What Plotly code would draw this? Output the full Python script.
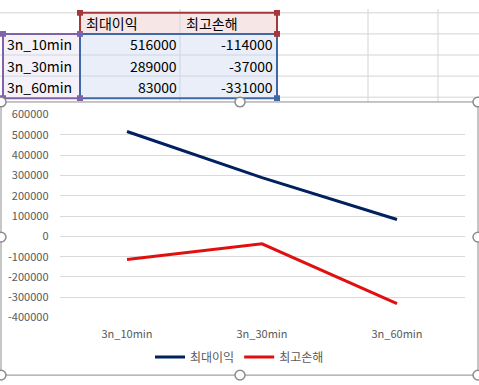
import plotly.graph_objects as go

categories = ["3n_10min", "3n_30min", "3n_60min"]
series_names = ["최대이익", "최고손해"]
max_profit = [516000, 289000, 83000]
max_loss = [-114000, -37000, -331000]
y_ticks = [600000, 500000, 400000, 300000, 200000, 100000, 0,
           -100000, -200000, -300000, -400000]

W, H = 479, 385
FONT = "Noto Sans CJK KR, Malgun Gothic, sans-serif"

def px(x):
    return x / W

def py(y):
    return 1 - y / H

fig = go.Figure()
fig.add_trace(go.Scatter(x=categories, y=max_profit, name=series_names[0],
                         mode="lines", line=dict(color="#002060", width=3)))
fig.add_trace(go.Scatter(x=categories, y=max_loss, name=series_names[1],
                         mode="lines", line=dict(color="#E01010", width=3)))

shapes = []
annotations = []

def rect(x0, y0, x1, y1, fill=None, line=None, lw=1, layer="below"):
    shapes.append(dict(type="rect", xref="paper", yref="paper",
                       x0=px(x0), x1=px(x1), y0=py(y1), y1=py(y0),
                       fillcolor=fill or "rgba(0,0,0,0)",
                       line=dict(color=line or "rgba(0,0,0,0)", width=lw if line else 0),
                       layer=layer))

def hline(x0, x1, y, color="#d4d4d4", w=1, layer="below"):
    shapes.append(dict(type="line", xref="paper", yref="paper",
                       x0=px(x0), x1=px(x1), y0=py(y), y1=py(y),
                       line=dict(color=color, width=w), layer=layer))

def vline(x, y0, y1, color="#d4d4d4", w=1, layer="below"):
    shapes.append(dict(type="line", xref="paper", yref="paper",
                       x0=px(x), x1=px(x), y0=py(y0), y1=py(y1),
                       line=dict(color=color, width=w), layer=layer))

# spreadsheet gridlines
for yy in [4, 26, 48, 70, 92]:
    hline(0, W, yy)
for xx in [180, 368, 438]:
    vline(xx, 0, 97)

# selection fills
rect(80, 4, 277, 26, fill="#f7e6e6")
rect(3, 26, 80, 93, fill="#f4f1f8")
rect(80, 26, 277, 93, fill="#e9eef8")
for yy in [48, 70]:
    hline(3, 277, yy, color="#cfd6e2")
vline(180, 4, 93, color="#cfd6e2")

# selection borders
rect(80, 4, 277, 26, line="#a4373a", lw=2)
rect(3, 26, 80, 93, line="#7f62a8", lw=2)
rect(80, 26, 277, 93, line="#3e68a8", lw=2)

def handle(x, y, color):
    rect(x - 3, y - 3, x + 3, y + 3, fill=color, layer="above")

for (x, y) in [(80, 4), (277, 4), (277, 26)]:
    handle(x, y, "#a4373a")
for (x, y) in [(3, 26), (80, 26), (3, 93), (80, 93)]:
    handle(x, y, "#7f62a8")
handle(277, 93, "#3e68a8")

# table text
def text(x, y, s, anchor):
    annotations.append(dict(xref="paper", yref="paper", x=px(x), y=py(y), text=s,
                            showarrow=False, xanchor=anchor, yanchor="middle",
                            font=dict(family=FONT, size=14, color="#000000")))

text(84, 15, series_names[0], "left")
text(184, 15, series_names[1], "left")
row_y = [37, 59, 81]
for i, c in enumerate(categories):
    text(5, row_y[i], c, "left")
    text(179, row_y[i], str(max_profit[i]), "right")
    text(275, row_y[i], str(max_loss[i]), "right")

# chart area
rect(1, 97, 478, 382, fill="#ffffff", line="#8c8c8c", lw=1)

def circle(x, y):
    shapes.append(dict(type="circle", xref="paper", yref="paper",
                       x0=px(x - 5), x1=px(x + 5), y0=py(y + 5), y1=py(y - 5),
                       fillcolor="#ffffff", line=dict(color="#8c8c8c", width=1.5),
                       layer="above"))

for (x, y) in [(1, 97), (240, 97), (478, 97), (1, 238), (478, 238),
               (1, 382), (240, 382), (478, 382)]:
    circle(x, y)

fig.update_layout(
    width=W, height=H,
    margin=dict(l=0, r=0, t=0, b=0),
    paper_bgcolor="#ffffff",
    plot_bgcolor="rgba(0,0,0,0)",
    font=dict(family=FONT, color="#595959"),
    shapes=shapes,
    annotations=annotations,
    showlegend=True,
    legend=dict(orientation="h", x=0.5, xanchor="center", y=py(363), yanchor="middle",
                font=dict(family=FONT, size=12, color="#595959"),
                bgcolor="rgba(0,0,0,0)"),
    xaxis=dict(domain=[px(59.5), px(464.5)], type="category", range=[-0.5, 2.5],
               showgrid=False, showline=False, ticks="", zeroline=False,
               tickfont=dict(family=FONT, size=11, color="#595959"), ticklabelstandoff=8),
    yaxis=dict(domain=[py(322), py(110)], range=[-400000, 600000],
               tickvals=y_ticks, ticktext=[str(v) for v in y_ticks],
               showgrid=True, gridcolor="#d9d9d9", gridwidth=1,
               zeroline=False, showline=False, ticks="",
               tickfont=dict(family=FONT, size=11, color="#595959"), ticklabelstandoff=10),
)

fig.write_html(
    "out.html",
    config={"displayModeBar": False},
    post_script="document.body.style.margin='0';document.body.style.padding='0';"
                "document.documentElement.style.overflow='hidden';document.body.style.overflow='hidden';",
)
